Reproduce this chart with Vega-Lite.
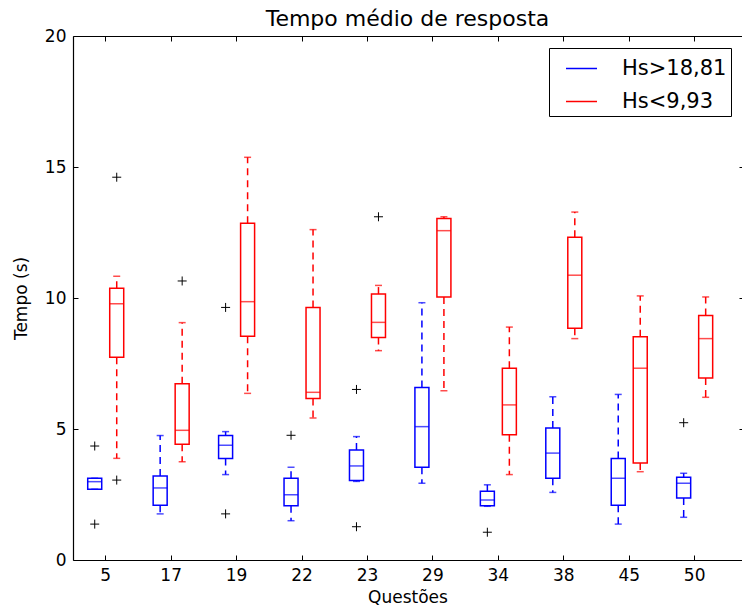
{
  "$schema": "https://vega.github.io/schema/vega-lite/v6.json",
  "width": 669,
  "height": 524,
  "autosize": {"type": "none"},
  "padding": {"left": 73, "top": 36, "right": 0, "bottom": 50},
  "background": "white",
  "config": {
    "font": "DejaVu Sans",
    "view": {"stroke": null},
    "axis": {
      "domainColor": "black", "tickColor": "black", "labelColor": "black", "titleColor": "black",
      "labelFontSize": 17, "titleFontSize": 17, "titleFontWeight": "normal",
      "grid": false, "tickSize": -5, "domainWidth": 1.2, "tickWidth": 1, "labelPadding": 12
    },
    "legend": {
      "orient": "none", "legendX": 476, "legendY": 12,
      "strokeColor": "black", "fillColor": "white", "padding": 4,
      "symbolType": "stroke", "symbolSize": 961, "symbolStrokeWidth": 1.5, "symbolOffset": 12,
      "labelFontSize": 21, "labelColor": "black", "rowPadding": 6, "labelOffset": 24,
      "cornerRadius": 0, "labelLimit": 400
    }
  },
  "title": {"text": "Tempo médio de resposta", "fontSize": 22, "fontWeight": "normal", "color": "black", "offset": -4},
  "datasets": {
    "boxes": [
      {"q": "5", "g": "Hs>18,81", "lo": 2.70, "q1": 2.70, "med": 2.99, "q3": 3.12, "hi": 3.12},
      {"q": "5", "g": "Hs<9,93", "lo": 3.88, "q1": 7.74, "med": 9.78, "q3": 10.37, "hi": 10.83},
      {"q": "17", "g": "Hs>18,81", "lo": 1.76, "q1": 2.09, "med": 2.75, "q3": 3.21, "hi": 4.75},
      {"q": "17", "g": "Hs<9,93", "lo": 3.75, "q1": 4.42, "med": 4.95, "q3": 6.73, "hi": 9.06},
      {"q": "19", "g": "Hs>18,81", "lo": 3.26, "q1": 3.87, "med": 4.38, "q3": 4.75, "hi": 4.90},
      {"q": "19", "g": "Hs<9,93", "lo": 6.36, "q1": 8.54, "med": 9.86, "q3": 12.85, "hi": 15.37},
      {"q": "22", "g": "Hs>18,81", "lo": 1.50, "q1": 2.07, "med": 2.49, "q3": 3.12, "hi": 3.54},
      {"q": "22", "g": "Hs<9,93", "lo": 5.42, "q1": 6.16, "med": 6.40, "q3": 9.64, "hi": 12.61},
      {"q": "23", "g": "Hs>18,81", "lo": 3.00, "q1": 3.03, "med": 3.59, "q3": 4.20, "hi": 4.71},
      {"q": "23", "g": "Hs<9,93", "lo": 7.99, "q1": 8.49, "med": 9.07, "q3": 10.15, "hi": 10.48},
      {"q": "29", "g": "Hs>18,81", "lo": 2.93, "q1": 3.54, "med": 5.09, "q3": 6.58, "hi": 9.82},
      {"q": "29", "g": "Hs<9,93", "lo": 6.46, "q1": 10.04, "med": 12.57, "q3": 13.03, "hi": 13.10},
      {"q": "34", "g": "Hs>18,81", "lo": 2.05, "q1": 2.07, "med": 2.29, "q3": 2.62, "hi": 2.87},
      {"q": "34", "g": "Hs<9,93", "lo": 3.26, "q1": 4.78, "med": 5.92, "q3": 7.32, "hi": 8.89},
      {"q": "38", "g": "Hs>18,81", "lo": 2.58, "q1": 3.12, "med": 4.08, "q3": 5.04, "hi": 6.23},
      {"q": "38", "g": "Hs<9,93", "lo": 8.45, "q1": 8.85, "med": 10.87, "q3": 12.32, "hi": 13.28},
      {"q": "45", "g": "Hs>18,81", "lo": 1.37, "q1": 2.09, "med": 3.12, "q3": 3.87, "hi": 6.32},
      {"q": "45", "g": "Hs<9,93", "lo": 3.37, "q1": 3.70, "med": 7.32, "q3": 8.52, "hi": 10.08},
      {"q": "50", "g": "Hs>18,81", "lo": 1.63, "q1": 2.37, "med": 2.93, "q3": 3.16, "hi": 3.31},
      {"q": "50", "g": "Hs<9,93", "lo": 6.21, "q1": 6.95, "med": 8.45, "q3": 9.33, "hi": 10.04}
    ],
    "outliers": [
      {"q": "5", "g": "Hs>18,81", "v": 4.35},
      {"q": "5", "g": "Hs>18,81", "v": 1.37},
      {"q": "5", "g": "Hs<9,93", "v": 14.61},
      {"q": "5", "g": "Hs<9,93", "v": 3.05},
      {"q": "17", "g": "Hs<9,93", "v": 10.65},
      {"q": "19", "g": "Hs>18,81", "v": 9.64},
      {"q": "19", "g": "Hs>18,81", "v": 1.76},
      {"q": "22", "g": "Hs>18,81", "v": 4.76},
      {"q": "23", "g": "Hs>18,81", "v": 6.51},
      {"q": "23", "g": "Hs>18,81", "v": 1.27},
      {"q": "23", "g": "Hs<9,93", "v": 13.10},
      {"q": "34", "g": "Hs>18,81", "v": 1.06},
      {"q": "50", "g": "Hs>18,81", "v": 5.24}
    ]
  },
  "resolve": {"axis": {"x": "independent", "y": "independent"}},
  "layer": [
    {
      "data": {"name": "boxes"},
      "mark": {"type": "rule", "strokeDash": [7, 5], "strokeWidth": 1.5},
      "encoding": {
        "x": {"field": "q", "type": "nominal", "scale": {"domain": ["5","17","19","22","23","29","34","38","45","50"], "paddingInner": 0, "paddingOuter": 0.1116, "align": 0},
              "axis": {"orient": "bottom", "title": "Questões", "labelAngle": 0, "titlePadding": 6}},
        "xOffset": {"field": "g", "type": "nominal", "scale": {"domain": ["Hs>18,81", "Hs<9,93"], "paddingInner": 0.3636, "paddingOuter": 0.669}},
        "y": {"field": "q3", "type": "quantitative", "scale": {"domain": [0, 20], "nice": false},
              "axis": {"orient": "left", "title": "Tempo (s)", "values": [0, 5, 10, 15, 20], "titlePadding": 14}},
        "y2": {"field": "hi"},
        "color": {"field": "g", "type": "nominal", "scale": {"domain": ["Hs>18,81", "Hs<9,93"], "range": ["#0000ff", "#ff0000"]},
                  "legend": {"title": null, "labelExpr": "datum.label + '\u00a0'"}}
      }
    },
    {
      "data": {"name": "boxes"},
      "mark": {"type": "rule", "strokeDash": [7, 5], "strokeWidth": 1.5},
      "encoding": {
        "x": {"field": "q", "type": "nominal", "axis": {"orient": "top", "labels": false, "title": null}},
        "xOffset": {"field": "g", "type": "nominal"},
        "y": {"field": "q1", "type": "quantitative", "axis": {"orient": "right", "labels": false, "title": null, "domain": false, "tickSize": -3, "values": [0, 5, 10, 15, 20]}},
        "y2": {"field": "lo"},
        "color": {"field": "g", "type": "nominal"}
      }
    },
    {
      "data": {"name": "boxes"},
      "mark": {"type": "bar", "filled": false, "strokeWidth": 1.5},
      "encoding": {
        "x": {"field": "q", "type": "nominal", "axis": null},
        "xOffset": {"field": "g", "type": "nominal"},
        "y": {"field": "q1", "type": "quantitative", "axis": null},
        "y2": {"field": "q3"},
        "color": {"field": "g", "type": "nominal"}
      }
    },
    {
      "data": {"name": "boxes"},
      "mark": {"type": "tick", "size": 14, "thickness": 1.5},
      "encoding": {
        "x": {"field": "q", "type": "nominal", "axis": null},
        "xOffset": {"field": "g", "type": "nominal"},
        "y": {"field": "med", "type": "quantitative", "axis": null},
        "color": {"field": "g", "type": "nominal"}
      }
    },
    {
      "data": {"name": "boxes"},
      "transform": [{"fold": ["lo", "hi"], "as": ["cap", "cv"]}],
      "mark": {"type": "tick", "size": 7, "thickness": 1.5},
      "encoding": {
        "x": {"field": "q", "type": "nominal", "axis": null},
        "xOffset": {"field": "g", "type": "nominal"},
        "y": {"field": "cv", "type": "quantitative", "axis": null},
        "color": {"field": "g", "type": "nominal"}
      }
    },
    {
      "data": {"name": "outliers"},
      "mark": {"type": "point", "shape": "M-1,0L1,0M0,-1L0,1", "size": 81, "filled": false, "color": "black", "strokeWidth": 1, "opacity": 1},
      "encoding": {
        "x": {"field": "q", "type": "nominal", "axis": null},
        "xOffset": {"field": "g", "type": "nominal"},
        "y": {"field": "v", "type": "quantitative", "axis": null}
      }
    }
  ]
}
